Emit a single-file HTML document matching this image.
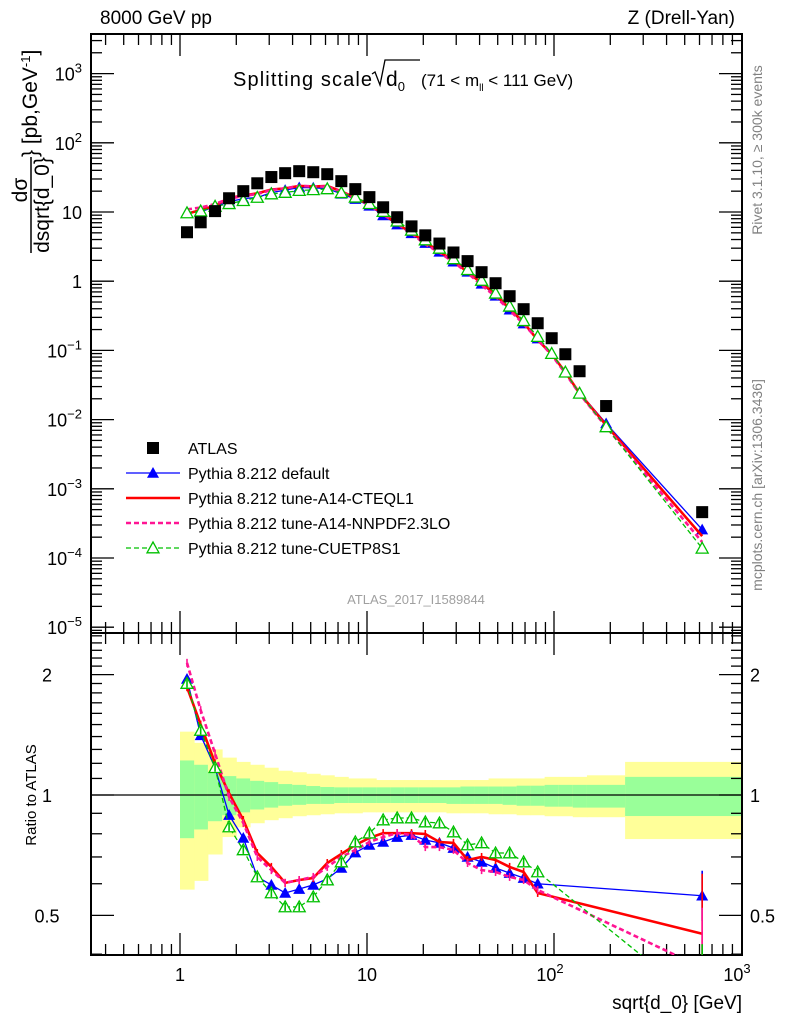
<!DOCTYPE html>
<html><head><meta charset="utf-8"><style>
body{margin:0;background:#fff}
svg{display:block;font-family:"Liberation Sans",Arial,sans-serif}
</style></head><body>
<svg id="c" width="786" height="1024" viewBox="0 0 786 1024" xmlns="http://www.w3.org/2000/svg"></svg>
<script>
// ---- data ----
const binEdges=[1.00,1.19,1.41,1.68,2.00,2.37,2.82,3.35,3.98,4.73,5.62,6.68,7.94,9.44,11.2,13.3,15.8,18.8,22.4,26.6,31.6,37.6,44.7,53.1,63.1,75.0,89.1,106,126,150,240,1000];
const xCenters=[1.09,1.29,1.54,1.83,2.18,2.59,3.08,3.65,4.34,5.16,6.13,7.29,8.66,10.3,12.2,14.5,17.3,20.5,24.4,29.0,34.5,41.0,48.7,57.9,68.8,81.8,97.2,115,137,190,620];
const atlas=[5.1,7.1,10.3,15.8,20,26,32,36.4,38.9,37.6,35.2,27.9,21.4,16.4,11.7,8.4,6.2,4.6,3.5,2.6,1.95,1.35,0.935,0.607,0.394,0.247,0.150,0.088,0.050,0.0157,0.00046];
const yellowUp=[1.44,1.35,1.30,1.24,1.21,1.19,1.17,1.15,1.14,1.13,1.12,1.11,1.10,1.10,1.09,1.09,1.09,1.09,1.09,1.09,1.09,1.09,1.10,1.10,1.10,1.10,1.11,1.11,1.11,1.12,1.21];
const greenUp=[1.22,1.19,1.14,1.115,1.10,1.085,1.077,1.065,1.06,1.053,1.047,1.045,1.045,1.045,1.045,1.045,1.045,1.045,1.045,1.045,1.05,1.05,1.05,1.05,1.055,1.055,1.06,1.06,1.06,1.06,1.11];
const greenLo=[0.78,0.82,0.86,0.89,0.905,0.92,0.93,0.94,0.945,0.95,0.95,0.955,0.955,0.955,0.955,0.955,0.955,0.955,0.955,0.95,0.95,0.95,0.95,0.945,0.94,0.94,0.935,0.935,0.93,0.93,0.886];
const yellowLo=[0.58,0.61,0.71,0.785,0.83,0.85,0.865,0.875,0.885,0.89,0.895,0.90,0.90,0.905,0.905,0.905,0.905,0.905,0.905,0.90,0.90,0.90,0.895,0.895,0.89,0.89,0.885,0.885,0.88,0.88,0.776];
// MC ratio points shown in the ratio panel: bins 0..25 and bin 30
const mcBins=[0,1,2,3,4,5,6,7,8,9,10,11,12,13,14,15,16,17,18,19,20,21,22,23,24,25,30];
const ratioDefault=[1.95,1.41,1.17,0.891,0.781,0.624,0.596,0.569,0.582,0.596,0.617,0.657,0.718,0.750,0.763,0.785,0.794,0.772,0.759,0.737,0.700,0.680,0.657,0.638,0.62,0.60,0.56];
const ratioCTEQ=[1.86,1.50,1.20,1.01,0.866,0.716,0.661,0.603,0.613,0.620,0.676,0.712,0.750,0.781,0.803,0.803,0.803,0.799,0.763,0.759,0.688,0.700,0.688,0.661,0.642,0.569,0.45];
const ratioNNPDF=[2.14,1.63,1.27,0.989,0.851,0.700,0.649,0.603,0.613,0.624,0.661,0.700,0.729,0.763,0.785,0.803,0.794,0.741,0.741,0.729,0.676,0.649,0.642,0.624,0.613,0.579,0.37];
const ratioCUETP=[1.90,1.45,1.17,0.832,0.729,0.624,0.569,0.525,0.525,0.556,0.613,0.680,0.763,0.803,0.866,0.876,0.876,0.856,0.851,0.808,0.750,0.759,0.716,0.716,0.680,0.642,0.30];
// extra MC/data ratios for bins 26..29 (only drawn in main panel)
const tailBins=[26,27,28,29];
const tailDefault=[0.60,0.56,0.49,0.56];
const tailCTEQ=[0.59,0.55,0.48,0.53];
const tailNNPDF=[0.57,0.53,0.47,0.50];
const tailCUETP=[0.60,0.55,0.48,0.50];
const mainTicks=[3,2,1,0,-1,-2,-3,-4,-5];
const ratioTicks=[2,1,0.5];

// ---- axes ----
const X0=91,X1=742;
const px=v=>180+187*Math.log10(v);
const MT=34,MB=633;
const py=v=>212-69.2*(Math.log10(v)-1);
const RT=633,RB=955;
const ry=v=>795-400*Math.log10(v);
const NS="http://www.w3.org/2000/svg";
const svg=document.getElementById('c');
function el(tag,attrs,parent){const e=document.createElementNS(NS,tag);for(const k in attrs)e.setAttribute(k,attrs[k]);(parent||svg).appendChild(e);return e;}
function txt(x,y,s,attrs,parent){const e=el('text',Object.assign({x:x,y:y,'font-size':18,fill:'#000'},attrs||{}),parent);e.innerHTML=s;return e;}

// ratio bands
const bands=el('g',{});


for(let i=0;i<atlas.length;i++){
  const xa=px(binEdges[i]),xb=px(binEdges[i+1]);
  const r1=el('rect',{x:xa,y:ry(yellowUp[i]),width:xb-xa+0.5,height:ry(yellowLo[i])-ry(yellowUp[i]),fill:'#ffff99'},bands);
  
  
  const r2=el('rect',{x:xa,y:ry(greenUp[i]),width:xb-xa+0.5,height:ry(greenLo[i])-ry(greenUp[i]),fill:'#99ff99'},bands);
  
  
}
const one=el('line',{x1:X0,x2:X1,y1:ry(1),y2:ry(1),stroke:'#000','stroke-width':1.3});



// frames
for(const [t,b,n] of [[MT,MB,'main-frame'],[RT,RB,'ratio-frame']]){
  const f=el('rect',{x:X0,y:t,width:X1-X0,height:b-t,fill:'none',stroke:'#000','stroke-width':2});
  
  
}
const ticks=el('g',{stroke:'#000','stroke-width':1.3});


for(let d=-1;d<3;d++)for(let m=1;m<10;m++){
  const v=m*Math.pow(10,d),x=px(v);
  if(x<X0||x>X1)continue;
  const L=m==1?22:11;
  for(const [t,b] of [[MT,MB],[RT,RB]]){
    el('line',{x1:x,x2:x,y1:t,y2:t+L},ticks);el('line',{x1:x,x2:x,y1:b,y2:b-L},ticks);
  }
}
for(let d=-6;d<4;d++)for(let m=1;m<10;m++){
  const y=py(m*Math.pow(10,d));
  if(y<MT||y>MB)continue;
  const L=m==1?23:11;
  el('line',{x1:X0,x2:X0+L,y1:y,y2:y},ticks);el('line',{x1:X1,x2:X1-L,y1:y,y2:y},ticks);
}
for(let v=0.4;v<=2.55;v=+(v+0.1).toFixed(2)){
  const y=ry(v);if(y<RT||y>RB)continue;
  const major=Math.abs(v-0.5)<1e-6||Math.abs(v-1)<1e-6||Math.abs(v-2)<1e-6;
  const L=major?23:11;
  el('line',{x1:X0,x2:X0+L,y1:y,y2:y},ticks);el('line',{x1:X1,x2:X1-L,y1:y,y2:y},ticks);
}
mainTicks.forEach(e=>{
  const y=py(Math.pow(10,e))+7;
  let s=e==0?'1':e==1?'10':'10<tspan dy="-8" font-size="13">'+(e<0?'\u2212':'')+Math.abs(e)+'</tspan>';
  const t=txt(82,y,s,{'text-anchor':'end'});
  
  
});
ratioTicks.forEach(v=>{
  const t1=txt(47,ry(v)+7,String(v),{'text-anchor':'middle'});
  
  
  const t2=txt(750,ry(v)+7,String(v),{'text-anchor':'start'});
  
  
});
[[1,'1'],[10,'10'],[100,'10<tspan dy="-8" font-size="13">2</tspan>'],[1000,'10<tspan dy="-8" font-size="13">3</tspan>']].forEach(([v,s])=>{
  const t=txt(px(v)-(v>=100?4:0),981,s,{'text-anchor':'middle'});
  
  
});

// ---- series ----
const series=[
 {name:'pythia-default',r:ratioDefault,t:tailDefault,color:'#0000ff',w:1.3,dash:null,marker:'tri'},
 {name:'pythia-a14-cteql1',r:ratioCTEQ,t:tailCTEQ,color:'#ff0000',w:2.6,dash:null,marker:'none'},
 {name:'pythia-a14-nnpdf',r:ratioNNPDF,t:tailNNPDF,color:'#ff1493',w:2.6,dash:'5,3',marker:'none'},
 {name:'pythia-cuetp8s1',r:ratioCUETP,t:tailCUETP,color:'#00c000',w:1.3,dash:'5,3',marker:'otri'}
];
function clipRect(id,t,b){const cp=el('clipPath',{id:id});el('rect',{x:X0,y:t,width:X1-X0,height:b-t},cp);}
clipRect('cm',MT,MB);clipRect('cr',RT,RB);
function marker(g,type,x,y,color){
  const s=6;
  if(type==='tri')el('polygon',{points:`${x},${y-s} ${x-s},${y+s*0.8} ${x+s},${y+s*0.8}`,fill:color},g);
  else if(type==='otri')el('polygon',{points:`${x},${y-s} ${x-s},${y+s*0.8} ${x+s},${y+s*0.8}`,fill:'#fff',stroke:color,'stroke-width':1.3},g);
  else if(type==='sq')el('rect',{x:x-6,y:y-6,width:12,height:12,fill:'#000'},g);
}
series.forEach(s=>{
  const gm=el('g',{'clip-path':'url(#cm)'});
  
  
  const gr=el('g',{'clip-path':'url(#cr)'});
  
  
  const pm=[],pr=[];
  mcBins.forEach((b,k)=>{
    if(b===30)tailBins.forEach((tb,j)=>pm.push([px(xCenters[tb]),py(atlas[tb]*s.t[j])]));
    pm.push([px(xCenters[b]),py(atlas[b]*s.r[k])]);
    pr.push([px(xCenters[b]),ry(s.r[k])]);
  });
  for(const [g,p] of [[gm,pm],[gr,pr]]){
    const l=el('polyline',{points:p.map(q=>q.join(',')).join(' '),fill:'none',stroke:s.color,'stroke-width':s.w},g);
    if(s.dash)l.setAttribute('stroke-dasharray',s.dash);
    p.forEach(q=>marker(g,s.marker,q[0],q[1],s.color));
  }
  pr.forEach((q,k)=>{
    const e=k==pr.length-1?(s.name==='pythia-default'?25:60):4;
    el('line',{x1:q[0],x2:q[0],y1:q[1]-e,y2:q[1]+e,stroke:s.color,'stroke-width':1.6},gr);
  });
});
const gd=el('g',{});


atlas.forEach((v,i)=>marker(gd,'sq',px(xCenters[i]),py(v)));

// ---- legend ----
const legend=[['ATLAS','sq','#000',null,0],['Pythia 8.212 default','tri','#0000ff',null,1.3],['Pythia 8.212 tune-A14-CTEQL1','none','#ff0000',null,2.6],['Pythia 8.212 tune-A14-NNPDF2.3LO','none','#ff1493','5,3',2.6],['Pythia 8.212 tune-CUETP8S1','otri','#00c000','5,3',1.3]];
legend.forEach((L,i)=>{
  const y=448+25*i;
  const g=el('g',{});
  
  
  if(L[4]){const l=el('line',{x1:126,x2:180,y1:y,y2:y,stroke:L[2],'stroke-width':L[4]},g);if(L[3])l.setAttribute('stroke-dasharray',L[3]);}
  marker(g,L[1],153,y,L[2]);
  txt(188,y+6,L[0],{'font-size':16},g);
});

// ---- titles ----
const t1=txt(100,24,'8000 GeV pp',{'font-size':19});

const t2=txt(735,24,'Z (Drell-Yan)',{'font-size':19,'text-anchor':'end'});

const tt=el('g',{});

txt(233,86,'Splitting scale',{'font-size':20,textLength:139},tt);
el('polyline',{points:'372,74 375,72 380,85 385,60 420,60',fill:'none',stroke:'#000','stroke-width':1.3},tt);
txt(386,86,'d<tspan dy="5" font-size="13">0</tspan>',{'font-size':21},tt);
txt(421,86,'(71 &lt; m<tspan dy="5" font-size="10">ll</tspan><tspan dy="-5"> &lt; 111 GeV)</tspan>',{'font-size':17},tt);
const ref=txt(416,604,'ATLAS_2017_I1589844',{'font-size':13,fill:'#a0a0a0','text-anchor':'middle'});

const xt=txt(742,1009,'sqrt{d_0} [GeV]',{'font-size':19,'text-anchor':'end'});

const rt=txt(0,0,'Ratio to ATLAS',{'font-size':15,'text-anchor':'middle',transform:'translate(36,795) rotate(-90)'});

const yt=el('g',{});

txt(0,0,'d\u03c3',{'font-size':21,'text-anchor':'middle',transform:'translate(27,190) rotate(-90)'},yt);
el('line',{x1:31,x2:31,y1:157,y2:253,stroke:'#000','stroke-width':1.5},yt);
txt(0,0,'dsqrt{d_0}',{'font-size':21,'text-anchor':'middle',transform:'translate(49,205) rotate(-90)'},yt);
txt(0,0,'} [pb,GeV<tspan dy="-7" font-size="13">-1</tspan><tspan dy="7">]</tspan>',{'font-size':21,'text-anchor':'start',transform:'translate(37,157) rotate(-90)'},yt);
const rv=txt(0,0,'Rivet 3.1.10, \u2265 300k events',{'font-size':14,fill:'#808080','text-anchor':'middle',transform:'translate(762,150) rotate(-90)'});

const mc=txt(0,0,'mcplots.cern.ch [arXiv:1306.3436]',{'font-size':14,fill:'#808080','text-anchor':'middle',transform:'translate(762,485) rotate(-90)'});

</script>
</body></html>
